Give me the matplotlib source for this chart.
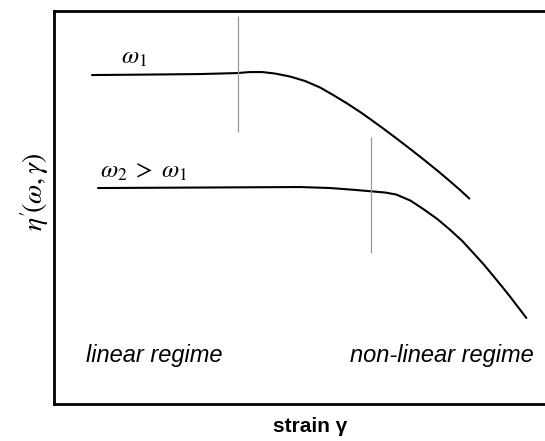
import numpy as np
import matplotlib.pyplot as plt

plt.rcParams['mathtext.fontset'] = 'stix'

# curves (strain in arbitrary units, eta' in arbitrary units, y up)
strain_w1 = [92, 150, 200, 237, 250, 262, 275, 290, 305, 320, 333, 347, 360,
             372, 383, 397, 410, 423, 437, 450, 460, 469]
eta_w1 = [366, 366.5, 367, 368, 369, 369, 367.5, 364.5, 360, 353.5, 346,
          337.5, 329, 320.5, 312.5, 302, 292, 281.8, 270.5, 259.5, 250.8, 242.5]

strain_w2 = [98, 200, 300, 330, 350, 368, 385, 396, 410, 423, 437, 450, 462,
             473, 483, 493, 502, 510, 518, 526]
eta_w2 = [253, 253.5, 254, 253, 251.5, 250, 248.5, 246.5, 240.5, 232, 222,
          211, 200, 188, 177, 165, 154, 144, 133.5, 123]

# onset of non-linearity markers: (x, y_low, y_high)
onset_w1 = (238, 309, 425)
onset_w2 = (371, 188, 304)

fig = plt.figure(figsize=(5.45, 4.41), dpi=100)
ax = fig.add_axes([0.0985, 0.0839, 0.95, 0.891])
ax.set_xlim(53.7, 571)
ax.set_ylim(37, 430)

ax.plot(strain_w1, eta_w1, color='black', lw=1.5, solid_capstyle='round')
ax.plot(strain_w2, eta_w2, color='black', lw=1.5, solid_capstyle='round')
ax.vlines(onset_w1[0], onset_w1[1], onset_w1[2], color='#999999', lw=0.9)
ax.vlines(onset_w2[0], onset_w2[1], onset_w2[2], color='#999999', lw=0.9)

ax.text(121, 377, r'$\omega_1$', fontsize=18, va='baseline')
ax.text(100, 263, r'$\omega_2\;>\;\omega_1$', fontsize=18, va='baseline')

ax.text(86, 79, 'linear regime', fontsize=17, style='italic',
        family='Liberation Sans', va='baseline')
ax.text(350, 79, 'non-linear regime', fontsize=17, style='italic',
        family='Liberation Sans', va='baseline')

ax.set_xticks([])
ax.set_yticks([])
for s in ax.spines.values():
    s.set_linewidth(2)

fig.text(0.569, 0.032, 'strain γ', fontsize=15, fontweight='bold',
         family='Liberation Sans', ha='center', va='center')
fig.text(0.064, 0.565, r"$\eta^{\prime}\!(\omega,\gamma)$", fontsize=20,
         rotation=90, ha='center', va='center')

fig.savefig('out.png', dpi=100)
